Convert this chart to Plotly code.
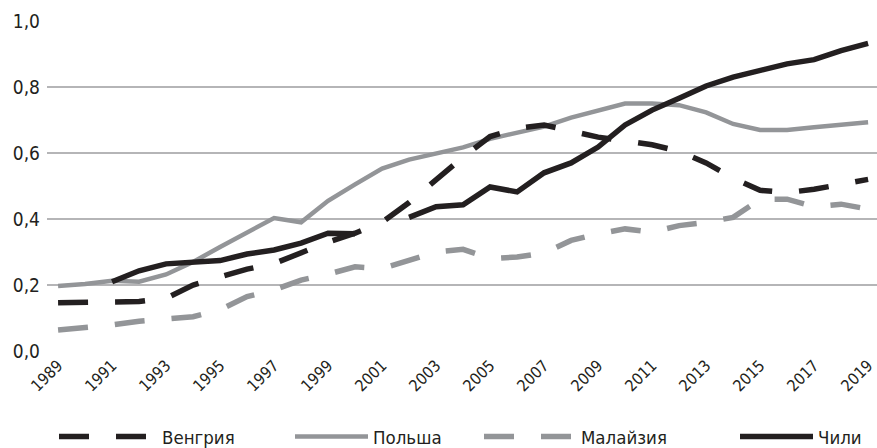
import plotly.graph_objects as go

years = list(range(1989, 2020))

hungary = [0.146, 0.146, 0.146, 0.150, 0.160, 0.200, 0.225, 0.248, 0.265, 0.297,
           0.330, 0.357, 0.390, 0.450, 0.518, 0.588, 0.650, 0.675, 0.685, 0.667,
           0.648, 0.637, 0.625, 0.605, 0.570, 0.524, 0.487, 0.480, 0.490, 0.505, 0.520]

poland = [0.197, 0.203, 0.213, 0.210, 0.232, 0.270, 0.315, 0.358, 0.403, 0.390,
          0.455, 0.505, 0.553, 0.580, 0.597, 0.617, 0.643, 0.662, 0.680, 0.707,
          0.728, 0.750, 0.750, 0.745, 0.723, 0.688, 0.670, 0.670, 0.678, 0.686, 0.693]

malaysia = [0.064, 0.070, 0.079, 0.090, 0.097, 0.104, 0.125, 0.165, 0.185, 0.215,
            0.233, 0.255, 0.250, 0.276, 0.300, 0.308, 0.280, 0.285, 0.297, 0.335,
            0.355, 0.370, 0.360, 0.380, 0.390, 0.405, 0.460, 0.460, 0.437, 0.445, 0.430]

chile = [None, None, 0.210, 0.243, 0.264, 0.270, 0.274, 0.294, 0.306, 0.327,
         0.357, 0.355, None, 0.405, 0.437, 0.443, 0.497, 0.482, 0.540, 0.570,
         0.618, 0.685, 0.730, 0.766, 0.803, 0.830, 0.850, 0.870, 0.883, 0.910, 0.932]

names = ["Венгрия", "Польша", "Малайзия", "Чили"]
tick_years = list(range(1989, 2020, 2))
y_ticks = [0.0, 0.2, 0.4, 0.6, 0.8, 1.0]

BLACK = "#231f20"
GREY = "#939598"
FONT = "DejaVu Sans Condensed, Liberation Sans Narrow, sans-serif"
DASH = "30px,27px"

fig = go.Figure()
fig.add_trace(go.Scatter(x=years, y=poland, name=names[1], mode="lines",
                         line=dict(color=GREY, width=4.5), legend="legend2"))
fig.add_trace(go.Scatter(x=years, y=malaysia, name=names[2], mode="lines",
                         line=dict(color=GREY, width=5.5, dash=DASH), legend="legend3"))
fig.add_trace(go.Scatter(x=years, y=chile, name=names[3], mode="lines",
                         line=dict(color=BLACK, width=5.5), connectgaps=False, legend="legend4"))
fig.add_trace(go.Scatter(x=years, y=hungary, name=names[0], mode="lines",
                         line=dict(color=BLACK, width=5.5, dash=DASH), legend="legend"))

L, R, T, B = 47, 877, 20, 352
def px(x):
    return (x - L) / (R - L)
def py(y):
    return (B - y) / (B - T)

leg_common = dict(orientation="h", yanchor="middle", y=py(437), xanchor="left",
                  bgcolor="rgba(0,0,0,0)",
                  font=dict(family=FONT, size=18.5, color=BLACK))

fig.update_layout(
    width=877, height=448,
    margin=dict(l=L, r=877 - R, t=T, b=448 - B, autoexpand=False),
    paper_bgcolor="white", plot_bgcolor="white",
    separators=", ",
    showlegend=True,
    font=dict(family=FONT, color=BLACK),
    legend=dict(x=px(54), itemwidth=98, **leg_common),
    legend2=dict(x=px(290), itemwidth=73, **leg_common),
    legend3=dict(x=px(479), itemwidth=92, **leg_common),
    legend4=dict(x=px(735), itemwidth=73, **leg_common),
    xaxis=dict(range=[1988.59, 2019.33], tickmode="array", tickvals=tick_years,
               ticktext=[str(y) for y in tick_years], tickangle=-45,
               ticklabeloverflow="allow", automargin=False, ticklabelshift=0,
               showgrid=False, zeroline=False, showline=False, ticks="",
               tickfont=dict(family=FONT, size=16, color=BLACK)),
    yaxis=dict(range=[-0.003, 1.003], tickmode="array", tickvals=y_ticks, tickformat=".1f",
               showgrid=True, gridcolor="#b5b5b7", gridwidth=2, automargin=False,
               ticklabelstandoff=6,
               zeroline=False, showline=False, ticks="",
               tickfont=dict(family=FONT, size=19, color=BLACK)),
)

fig.write_html("out.html", config={"displayModeBar": False},
               post_script="document.body.style.margin='0';document.body.style.padding='0';")
